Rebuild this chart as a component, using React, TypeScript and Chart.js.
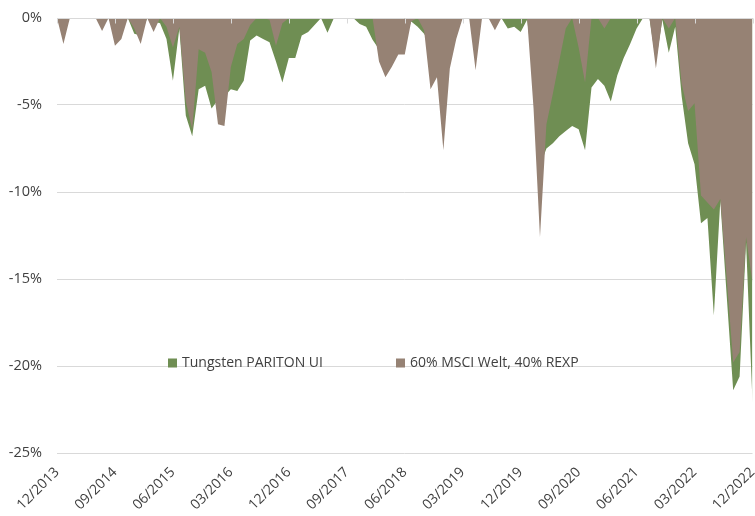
import React, { useEffect, useRef } from "react";
import { Chart, registerables } from "chart.js";

Chart.register(...registerables);

const seriesNames = ["Tungsten PARITON UI", "60% MSCI Welt, 40% REXP"];
const tickLabels = [
  "12/2013", "09/2014", "06/2015", "03/2016", "12/2016", "09/2017", "06/2018",
  "03/2019", "12/2019", "09/2020", "06/2021", "03/2022", "12/2022",
];
const yTickValues = [0, -5, -10, -15, -20, -25];

// monthly categories 12/2013 .. 12/2022
const months: string[] = [];
for (let k = 0; k < 109; k++) {
  const m = ((11 + k) % 12) + 1;
  const yr = 2013 + Math.floor((11 + k) / 12);
  months.push(String(m).padStart(2, "0") + "/" + yr);
}

// drawdown in %
const tungsten = [
  0, -0.3, 0, 0, 0, 0, 0, -0.2, 0, -0.5,
  -0.6, 0, -0.9, -1.0, 0, -0.2, -0.3, -1.2, -3.6, -0.6,
  -5.6, -6.8, -4.1, -3.9, -5.2, -4.7, -4.5, -4.1, -4.2, -3.6,
  -1.3, -1.0, -1.2, -1.4, -2.5, -3.7, -2.3, -2.3, -1.0, -0.8,
  -0.4, 0, -0.85, 0, -0.05, 0, 0, -0.35, -0.5, -1.25,
  -1.8, -2.2, -2.0, -1.7, -1.3, -0.2, -0.5, -0.9, -1.5, -1.2,
  -2.5, -1.0, -0.3, 0, 0, -0.6, 0, 0, -0.2, 0,
  -0.6, -0.5, -0.8, -0.1, -3.0, -8.5, -7.5, -7.2, -6.8, -6.5,
  -6.2, -6.4, -7.6, -4.0, -3.5, -3.9, -4.8, -3.3, -2.3, -1.5,
  -0.6, 0, 0, -2.5, -0.1, -2.0, -0.5, -4.5, -7.2, -8.4,
  -11.8, -11.5, -17.1, -10.5, -16.0, -21.4, -20.6, -12.9, -22.1,
];

const msciRexp = [
  0, -1.5, 0, 0, 0, 0, 0, -0.75, 0, -1.6,
  -1.2, 0, -0.6, -1.5, 0, -0.8, 0, -0.5, -1.7, -0.5,
  -4.8, -6.4, -1.8, -2.0, -3.1, -6.1, -6.2, -2.8, -1.5, -1.2,
  -0.4, 0, 0, -0.1, -1.6, -0.3, 0, 0, 0, 0,
  0, 0, 0, 0, 0, 0, 0, 0, 0, 0,
  -2.5, -3.4, -2.8, -2.1, -2.1, -0.2, 0, -0.7, -4.1, -3.4,
  -7.6, -2.9, -1.2, 0, 0, -3.0, 0, 0, -0.7, 0,
  0, 0, 0, 0, -5.2, -12.6, -6.1, -4.35, -2.45, -0.6,
  0, -1.7, -3.7, 0, 0, -0.6, 0, 0, 0, 0,
  0, 0, 0, -2.9, 0, -0.6, 0, -3.8, -5.35, -4.9,
  -10.2, -10.6, -11.0, -10.4, -15.0, -19.8, -19.2, -12.6, -15.2,
];

const GREEN = "#6f8e53";
const BROWN = "#968274";
const TEXT = "#404040";
const GRID = "#d9d9d9";
const FONT = "Open Sans";

const overlayPlugin = {
  id: "overlay",
  afterDatasetsDraw(chart: any) {
    const { ctx, chartArea, scales } = chart;
    const xs = scales.x;
    const ys = scales.y;
    const y0 = Math.round(ys.getPixelForValue(0)) + 0.5;
    ctx.save();
    ctx.strokeStyle = GRID;
    ctx.lineWidth = 1;
    ctx.beginPath();
    ctx.moveTo(chartArea.left, y0);
    ctx.lineTo(chartArea.right, y0);
    months.forEach((m, i) => {
      if (tickLabels.includes(m)) {
        const px = Math.round(xs.getPixelForValue(i)) + 0.5;
        ctx.moveTo(px, y0);
        ctx.lineTo(px, y0 + 5);
      }
    });
    ctx.stroke();
    ctx.restore();
  },
  afterDraw(chart: any) {
    const { ctx } = chart;
    ctx.save();
    ctx.font = `14px "${FONT}"`;
    ctx.textBaseline = "middle";
    ctx.textAlign = "left";
    const ly = 363;
    const items = [
      { x: 168, color: GREEN, text: seriesNames[0] },
      { x: 396, color: BROWN, text: seriesNames[1] },
    ];
    items.forEach((it) => {
      ctx.fillStyle = it.color;
      ctx.fillRect(it.x, ly - 4.5, 9, 9);
      ctx.fillStyle = TEXT;
      ctx.fillText(it.text, it.x + 14, ly);
    });
    ctx.restore();
  },
};

export default function App() {
  const ref = useRef<HTMLCanvasElement | null>(null);
  useEffect(() => {
    if (!ref.current) return;
    const chart = new Chart(ref.current, {
      type: "line",
      data: {
        labels: months,
        datasets: [
          {
            label: seriesNames[0],
            data: tungsten,
            backgroundColor: GREEN,
            borderWidth: 0,
            pointRadius: 0,
            fill: "origin",
            tension: 0,
            order: 1,
          },
          {
            label: seriesNames[1],
            data: msciRexp,
            backgroundColor: BROWN,
            borderWidth: 0,
            pointRadius: 0,
            fill: "origin",
            tension: 0,
            order: 0,
          },
        ],
      },
      options: {
        responsive: false,
        animation: false,
        layout: { padding: { top: 18, right: 2.5, left: 0, bottom: 0 } },
        plugins: { legend: { display: false }, tooltip: { enabled: false } },
        scales: {
          x: {
            type: "category",
            offset: false,
            grid: { display: false },
            border: { display: false },
            ticks: {
              autoSkip: false,
              maxRotation: 45,
              minRotation: 45,
              padding: 3,
              color: TEXT,
              font: { family: FONT, size: 14 },
              callback: (_v: any, i: number) =>
                tickLabels.includes(months[i]) ? months[i] : "",
            },
            afterFit: (s: any) => {
              s.height = 63;
              s.paddingLeft = 0;
              s.paddingRight = 0;
            },
          },
          y: {
            min: -25,
            max: 0,
            afterBuildTicks: (s: any) => {
              s.ticks = yTickValues.map((v) => ({ value: v }));
            },
            grid: { color: GRID, drawTicks: false, lineWidth: 1 },
            border: { display: false },
            ticks: {
              padding: 15,
              color: TEXT,
              font: { family: FONT, size: 14.5 },
              callback: (v: any) => v + "%",
            },
            afterFit: (s: any) => {
              s.width = 57;
              s.paddingTop = 0;
              s.paddingBottom = 0;
            },
          },
        },
      },
      plugins: [overlayPlugin],
    });
    return () => chart.destroy();
  }, []);
  return (
    <div style={{ position: "fixed", left: 0, top: 0, width: 755, height: 516, background: "#fff" }}>
      <canvas ref={ref} width={755} height={516} style={{ display: "block" }} />
    </div>
  );
}
